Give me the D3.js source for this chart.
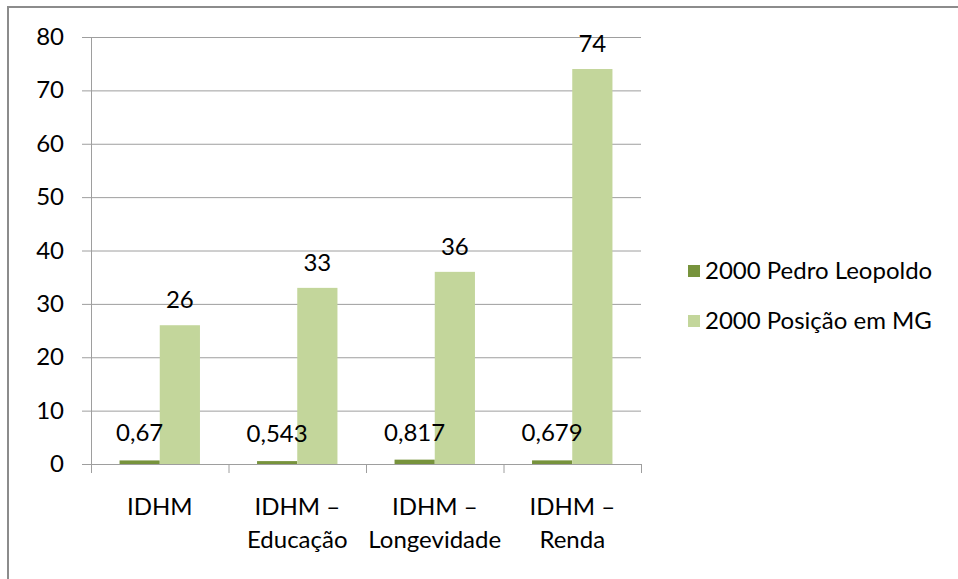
<!DOCTYPE html>
<html><head><meta charset="utf-8">
<script src="https://cdn.jsdelivr.net/npm/d3@7"></script>
<style>
html,body{margin:0;padding:0;background:#fff;}
svg text{font-family:Lato,"Open Sans",sans-serif;fill:#000;}
</style></head>
<body><svg id="chart" width="958" height="579"></svg>
<script>
const categories = [["IDHM"], ["IDHM –", "Educação"], ["IDHM –", "Longevidade"], ["IDHM –", "Renda"]];
const seriesNames = ["2000 Pedro Leopoldo", "2000 Posição em MG"];
const pedroLeopoldo = [0.67, 0.543, 0.817, 0.679];
const pedroLabels = ["0,67", "0,543", "0,817", "0,679"];
const posicaoMG = [26, 33, 36, 74];
const yTicks = [0, 10, 20, 30, 40, 50, 60, 70, 80];
const colors = ["#77933C", "#C3D69B"];
const fontSize = 24;

const svg = d3.select("#chart");
// outer frame
svg.append("rect").attr("x", 8).attr("y", 7).attr("width", 960).attr("height", 590)
  .attr("fill", "none").attr("stroke", "#8c8c8c").attr("stroke-width", 2);

const plotLeft = 91, plotRight = 641, plotTop = 37, plotBottom = 464;
const x = d3.scaleBand().domain(d3.range(categories.length)).range([plotLeft, plotRight]).paddingInner(0).paddingOuter(0);
const y = d3.scaleLinear().domain([0, 80]).range([plotBottom, plotTop]);
const inner = d3.scaleBand().domain([0, 1]).range([0, x.bandwidth()]).paddingOuter(0.71).paddingInner(0);

// gridlines
svg.append("g").selectAll("line").data(yTicks).join("line")
  .attr("x1", plotLeft - 9).attr("x2", plotRight).attr("y1", d => y(d) + 0.5).attr("y2", d => y(d) + 0.5)
  .attr("stroke", "#9e9e9e").attr("stroke-width", 1);

// y axis line
svg.append("line").attr("x1", plotLeft + 0.5).attr("x2", plotLeft + 0.5).attr("y1", plotTop).attr("y2", plotBottom)
  .attr("stroke", "#9e9e9e");
// x axis category ticks
svg.append("g").selectAll("line").data(d3.range(categories.length + 1)).join("line")
  .attr("x1", i => plotLeft + i * x.bandwidth() + 0.5).attr("x2", i => plotLeft + i * x.bandwidth() + 0.5)
  .attr("y1", plotBottom).attr("y2", plotBottom + 9).attr("stroke", "#9e9e9e");

// y tick labels
svg.append("g").selectAll("text").data(yTicks).join("text")
  .attr("x", 64).attr("y", d => y(d) + 8)
  .attr("text-anchor", "end").attr("font-size", fontSize).text(d => d);

const series = [pedroLeopoldo, posicaoMG];
series.forEach((vals, s) => {
  svg.append("g").selectAll("rect").data(vals).join("rect")
    .attr("x", (d, i) => x(i) + inner(s)).attr("width", inner.bandwidth())
    .attr("y", d => y(d)).attr("height", d => plotBottom - y(d)).attr("fill", colors[s]);
});

// value labels
svg.append("g").selectAll("text").data(pedroLeopoldo).join("text")
  .attr("x", (d, i) => x(i) + inner(0) + inner.bandwidth() / 2).attr("y", d => y(d) - 19)
  .attr("text-anchor", "middle").attr("font-size", fontSize).text((d, i) => pedroLabels[i]);
svg.append("g").selectAll("text").data(posicaoMG).join("text")
  .attr("x", (d, i) => x(i) + inner(1) + inner.bandwidth() / 2).attr("y", d => y(d) - 17)
  .attr("text-anchor", "middle").attr("font-size", fontSize).text(d => d);

// category labels
const cat = svg.append("g").selectAll("text").data(categories).join("text")
  .attr("x", (d, i) => x(i) + x.bandwidth() / 2).attr("y", 515)
  .attr("text-anchor", "middle").attr("font-size", fontSize);
cat.selectAll("tspan").data(d => d).join("tspan")
  .attr("x", function () { return this.parentNode.getAttribute("x"); })
  .attr("dy", (d, j) => j === 0 ? 0 : 33).text(d => d);

// legend
const lg = svg.append("g").selectAll("g").data(seriesNames).join("g")
  .attr("transform", (d, i) => `translate(688,${271 + i * 50})`);
lg.append("rect").attr("x", 0).attr("y", -6).attr("width", 12).attr("height", 12).attr("fill", (d, i) => colors[i]);
lg.append("text").attr("x", 17).attr("y", 8).attr("font-size", fontSize).text(d => d);
</script></body></html>
